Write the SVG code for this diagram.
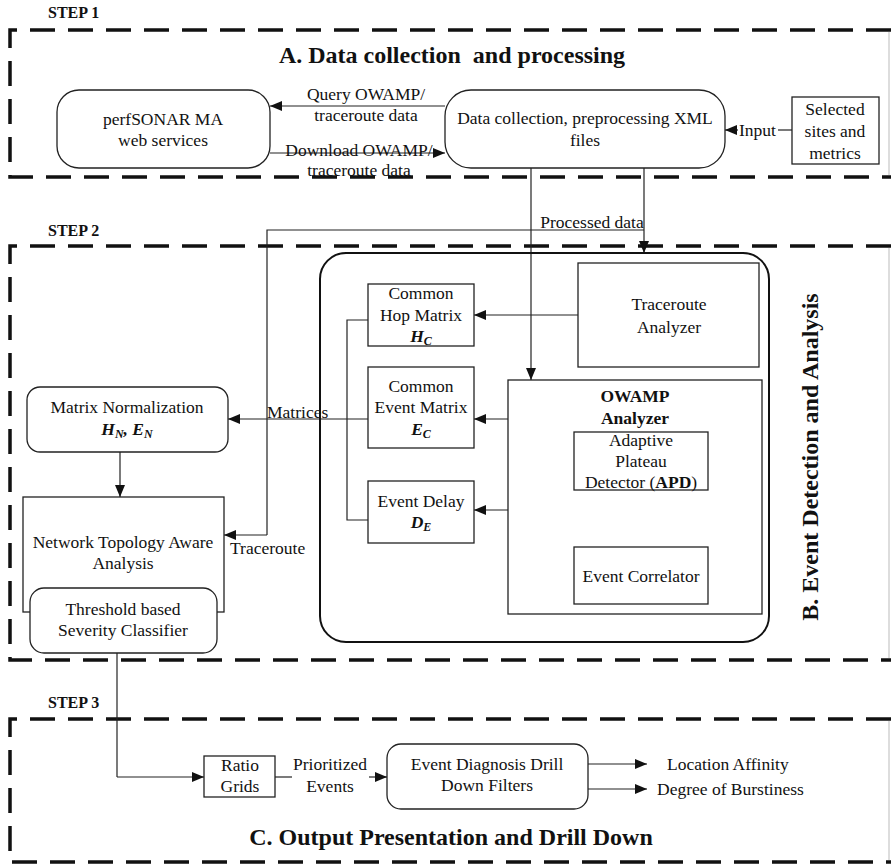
<svg xmlns="http://www.w3.org/2000/svg" width="891" height="866" viewBox="0 0 891 866" font-family="'Liberation Serif', 'DejaVu Serif', serif">
<defs>
<style>
text{font-family:'Liberation Serif','DejaVu Serif',serif;fill:#111;}
.t{font-size:17.5px;text-anchor:middle;}
.tl{font-size:17.5px;}
.b{font-weight:bold;}
.step{font-size:16px;font-weight:bold;}
.title{font-size:24px;font-weight:bold;text-anchor:middle;}
.bi{font-weight:bold;font-style:italic;}
.dash{fill:none;stroke:#111;stroke-width:3.5;stroke-dasharray:25 13;}
.edge{fill:none;stroke:#bbb;stroke-width:1;}
.box{fill:#fff;stroke:#222;stroke-width:1.3;}
.ln{fill:none;stroke:#222;stroke-width:1.2;}
.arr{fill:none;stroke:#222;stroke-width:1.2;marker-end:url(#ah);}
</style>
<marker id="ah" markerUnits="userSpaceOnUse" markerWidth="14" markerHeight="10" refX="12" refY="5" orient="auto">
<path d="M0,0 L12,5 L0,10 z" fill="#111"/>
</marker>
</defs>
<rect width="891" height="866" fill="#fff"/>

<!-- step frames -->
<g id="step1">
<text class="step" x="48" y="18">STEP 1</text>
<path class="dash" d="M891,30 H10 V177 H891"/>
<line class="edge" x1="889" y1="32" x2="889" y2="175"/>
<text class="title" x="452" y="63" style="white-space:pre">A. Data collection  and processing</text>
</g>
<g id="step2">
<text class="step" x="48" y="236">STEP 2</text>
<path class="dash" d="M891,246 H10 V660 H891"/>
<line class="edge" x1="889" y1="248" x2="889" y2="658"/>
<text class="title" transform="translate(818,457) rotate(-90)" x="0" y="0">B. Event Detection and Analysis</text>
</g>
<g id="step3">
<text class="step" x="48" y="708">STEP 3</text>
<path class="dash" d="M891,719 H10 V862 H891"/>
<line class="edge" x1="889" y1="721" x2="889" y2="860"/>
<text class="title" x="451" y="845">C. Output Presentation and Drill Down</text>
</g>

<!-- connectors -->
<g id="connectors">
<line class="arr" x1="445" y1="106" x2="270" y2="106"/>
<text class="t" x="366" y="100">Query OWAMP/</text>
<text class="t" x="366" y="121">traceroute data</text>
<line class="arr" x1="270" y1="153" x2="445" y2="153"/>
<text class="t" x="359" y="156">Download OWAMP/</text>
<text class="t" x="359" y="176">traceroute data</text>
<line class="ln" x1="792" y1="130" x2="778" y2="130"/>
<line class="arr" x1="738" y1="130" x2="725" y2="130"/>
<text class="tl" x="739" y="136">Input</text>
<!-- processed data -->
<line class="arr" x1="644" y1="168" x2="644" y2="253"/>
<path class="ln" d="M644,230 H267 V535"/>
<line class="arr" x1="267" y1="535" x2="224" y2="535"/>
<text class="tl" x="230" y="554">Traceroute</text>
<text class="t" x="592" y="228">Processed data</text>
<line class="arr" x1="531" y1="168" x2="531" y2="380"/>
<!-- analyzers to matrices -->
<line class="arr" x1="578" y1="315" x2="474" y2="315"/>
<line class="arr" x1="508" y1="419" x2="474" y2="419"/>
<line class="arr" x1="508" y1="510" x2="474" y2="510"/>
<path class="ln" d="M368,320 H347 V520 H368"/>
<line class="arr" x1="368" y1="419" x2="228" y2="419"/>
<text class="tl" x="267" y="418">Matrices</text>
<line class="arr" x1="120" y1="452" x2="120" y2="497"/>
<line class="arr" x1="642" y1="490" x2="642" y2="547"/>
<text class="t" x="575" y="512">Anomaly events</text>
<text class="t" x="575" y="532">marked data</text>
<!-- step3 -->
<path class="ln" d="M117,653 V777"/>
<line class="arr" x1="117" y1="777" x2="204" y2="777"/>
<line class="ln" x1="275" y1="777" x2="292" y2="777"/>
<text class="t" x="330" y="770">Prioritized</text>
<text class="t" x="330" y="792">Events</text>
<line class="arr" x1="369" y1="777" x2="387" y2="777"/>
<line class="arr" x1="588" y1="764" x2="647" y2="764"/>
<line class="arr" x1="588" y1="789" x2="647" y2="789"/>
<text class="tl" x="667" y="770">Location Affinity</text>
<text class="tl" x="657" y="795">Degree of Burstiness</text>
</g>

<!-- nodes -->
<g id="perfsonar">
<rect class="box" x="57" y="90" width="213" height="78" rx="22"/>
<text class="t" x="163" y="125">perfSONAR MA</text>
<text class="t" x="163" y="146">web services</text>
</g>
<g id="datacollection">
<rect class="box" x="445" y="90" width="280" height="78" rx="26"/>
<text class="t" x="585" y="124">Data collection, preprocessing XML</text>
<text class="t" x="585" y="146">files</text>
</g>
<g id="selected">
<rect class="box" x="792" y="97" width="87" height="67"/>
<text class="t" x="835" y="115">Selected</text>
<text class="t" x="835" y="137">sites and</text>
<text class="t" x="835" y="159">metrics</text>
</g>
<g id="container">
<rect x="320" y="253" width="449" height="389" rx="26" fill="none" stroke="#111" stroke-width="2"/>
</g>
<g id="traceroute">
<rect class="box" x="578" y="263" width="181" height="104"/>
<text class="t" x="669" y="310">Traceroute</text>
<text class="t" x="669" y="333">Analyzer</text>
</g>
<g id="owamp">
<rect class="box" x="508" y="380" width="254" height="234"/>
<text class="t b" x="635" y="402">OWAMP</text>
<text class="t b" x="635" y="424">Analyzer</text>
</g>
<g id="apd">
<rect class="box" x="574" y="432" width="134" height="58"/>
<text class="t" x="641" y="446">Adaptive</text>
<text class="t" x="641" y="467">Plateau</text>
<text class="t" x="641" y="488">Detector (<tspan class="b">APD</tspan>)</text>
</g>
<g id="correlator">
<rect class="box" x="574" y="547" width="134" height="57"/>
<text class="t" x="641" y="582">Event Correlator</text>
</g>
<g id="hopmatrix">
<rect class="box" x="368" y="284" width="106" height="62"/>
<text class="t" x="421" y="299">Common</text>
<text class="t" x="421" y="321">Hop Matrix</text>
<text class="t bi" x="421" y="342">H<tspan font-size="12" dy="3">C</tspan></text>
</g>
<g id="eventmatrix">
<rect class="box" x="368" y="367" width="106" height="81"/>
<text class="t" x="421" y="392">Common</text>
<text class="t" x="421" y="413">Event Matrix</text>
<text class="t bi" x="421" y="435">E<tspan font-size="12" dy="3">C</tspan></text>
</g>
<g id="eventdelay">
<rect class="box" x="368" y="481" width="106" height="62"/>
<text class="t" x="421" y="507">Event Delay</text>
<text class="t bi" x="421" y="528">D<tspan font-size="12" dy="3">E</tspan></text>
</g>
<g id="normalization">
<rect class="box" x="27" y="387" width="201" height="65" rx="13"/>
<text class="t" x="127" y="413">Matrix Normalization</text>
<text class="t bi" x="127" y="435">H<tspan font-size="12" dy="3">N</tspan><tspan dy="-3">, E</tspan><tspan font-size="12" dy="3">N</tspan></text>
</g>
<g id="topology">
<rect class="box" x="23" y="497" width="201" height="115"/>
<text class="t" x="123" y="548">Network Topology Aware</text>
<text class="t" x="123" y="569">Analysis</text>
</g>
<g id="threshold">
<rect class="box" x="30" y="588" width="187" height="65" rx="14"/>
<text class="t" x="123" y="615">Threshold based</text>
<text class="t" x="123" y="636">Severity Classifier</text>
</g>
<g id="ratiogrids">
<rect class="box" x="204" y="756" width="71" height="41"/>
<text class="t" x="240" y="771">Ratio</text>
<text class="t" x="240" y="792">Grids</text>
</g>
<g id="diagnosis">
<rect class="box" x="387" y="744" width="201" height="65" rx="14"/>
<text class="t" x="487" y="770">Event Diagnosis Drill</text>
<text class="t" x="487" y="791">Down Filters</text>
</g>
</svg>
